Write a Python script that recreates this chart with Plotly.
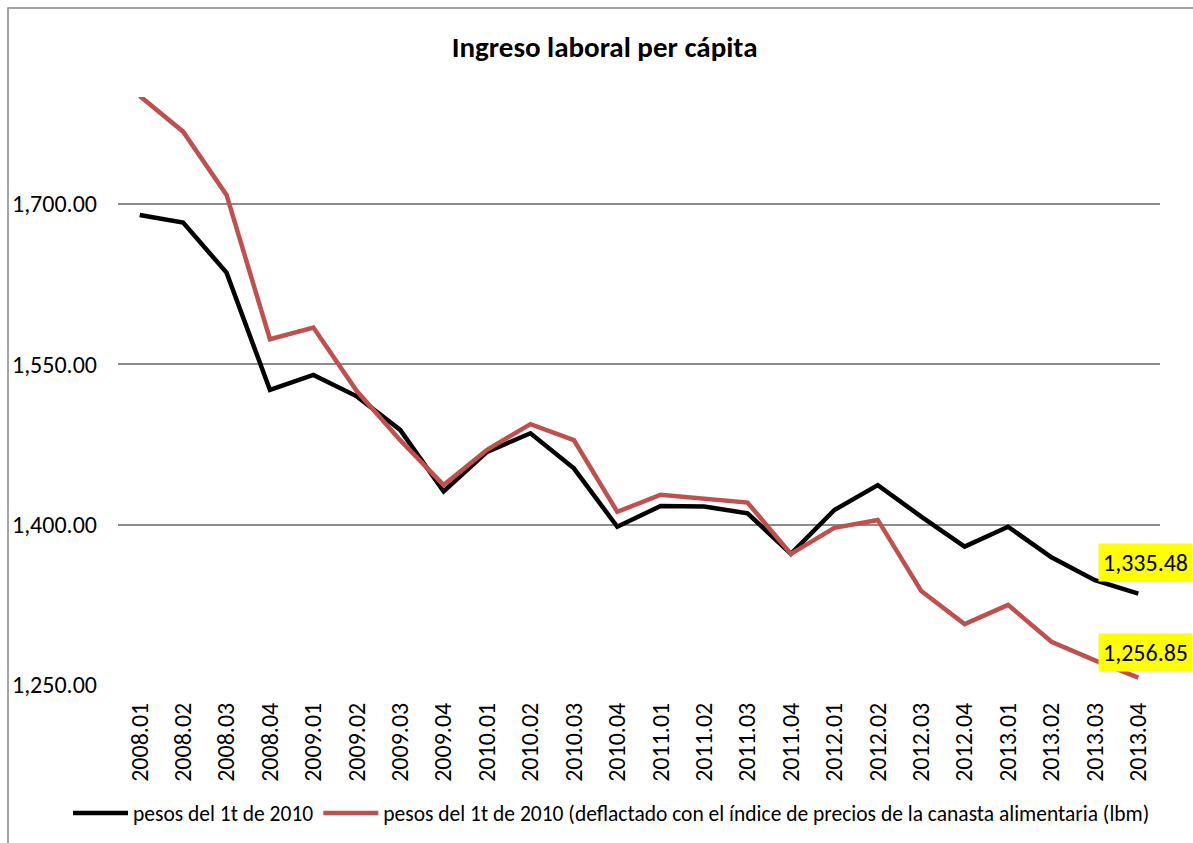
import plotly.graph_objects as go

categories = ["2008.01", "2008.02", "2008.03", "2008.04",
              "2009.01", "2009.02", "2009.03", "2009.04",
              "2010.01", "2010.02", "2010.03", "2010.04",
              "2011.01", "2011.02", "2011.03", "2011.04",
              "2012.01", "2012.02", "2012.03", "2012.04",
              "2013.01", "2013.02", "2013.03", "2013.04"]

pesos_2010 = [1689.7, 1682.5, 1635.7, 1526.0,
              1540.0, 1520.0, 1488.6, 1431.0,
              1468.0, 1485.5, 1452.7, 1398.0,
              1417.5, 1417.0, 1410.6, 1372.6,
              1413.7, 1437.0, 1407.5, 1379.4,
              1398.0, 1369.4, 1348.0, 1335.48]

pesos_2010_canasta = [1801.0, 1767.6, 1708.4, 1573.4,
                      1584.3, 1525.0, 1479.0, 1437.0,
                      1470.0, 1494.0, 1479.0, 1412.0,
                      1428.0, 1424.0, 1420.6, 1372.6,
                      1397.0, 1404.4, 1338.0, 1307.0,
                      1325.0, 1290.5, 1273.0, 1256.85]

y_ticks = [1250, 1400, 1550, 1700]
y_tick_text = ["1,250.00", "1,400.00", "1,550.00", "1,700.00"]

name_black = "pesos del 1t de 2010"
name_red = "pesos del 1t de 2010 (deflactado con el índice de precios de la canasta alimentaria (lbm)"

FONT = "Carlito, Calibri, Lato, sans-serif"

W, H = 1193, 843
PLOT_L, PLOT_R, PLOT_T, PLOT_B = 118, 1160, 97, 685
PW, PH = PLOT_R - PLOT_L, PLOT_B - PLOT_T

fig = go.Figure()
fig.add_trace(go.Scatter(x=categories, y=pesos_2010, mode="lines", name=name_black,
                         line=dict(color="#000000", width=4.5)))
fig.add_trace(go.Scatter(x=categories, y=pesos_2010_canasta, mode="lines", name=name_red,
                         line=dict(color="#C0504D", width=4.5)))

last = len(categories) - 1
fig.add_annotation(xref="x", yref="y", x=last, y=pesos_2010[-1], text=f"{pesos_2010[-1]:,.2f}",
                   showarrow=False, xshift=7, yshift=31, bgcolor="#FFFF00",
                   font=dict(family=FONT, size=24, color="#000000"), borderpad=4)
fig.add_annotation(xref="x", yref="y", x=last, y=pesos_2010_canasta[-1], text=f"{pesos_2010_canasta[-1]:,.2f}",
                   showarrow=False, xshift=7, yshift=25, bgcolor="#FFFF00",
                   font=dict(family=FONT, size=24, color="#000000"), borderpad=4)

# outer chart border (top and left visible in the window)
fig.add_shape(type="rect", xref="paper", yref="paper",
              x0=(8 - PLOT_L) / PW, x1=1.2, y0=-0.4, y1=(PLOT_B - 8) / PH,
              line=dict(color="#888888", width=1.5), fillcolor="rgba(0,0,0,0)", layer="below")

fig.update_layout(
    width=W, height=H,
    margin=dict(l=PLOT_L, r=W - PLOT_R, t=PLOT_T, b=H - PLOT_B, autoexpand=False),
    paper_bgcolor="white", plot_bgcolor="white",
    font=dict(family=FONT, color="#000000"),
    title=dict(text="<b>Ingreso laboral per cápita</b>", x=0.467, xref="paper", xanchor="center",
               y=1 - 47 / H, yanchor="middle", font=dict(family=FONT, size=29, color="#000000")),
    showlegend=True,
    legend=dict(orientation="h", xref="paper", yref="paper",
                x=(68 - PLOT_L) / PW, xanchor="left", y=(PLOT_B - 813) / PH, yanchor="middle",
                font=dict(family=FONT, size=21.5, color="#000000"), itemwidth=55,
                tracegroupgap=0, bgcolor="rgba(0,0,0,0)"),
    xaxis=dict(type="category", tickangle=-90, showgrid=False, showline=False, ticks="",
               tickfont=dict(family=FONT, size=24, color="#000000"),
               range=[-0.5, len(categories) - 0.5], ticklabelstandoff=12),
    yaxis=dict(range=[1250, 1800], tickvals=y_ticks, ticktext=y_tick_text, showgrid=True,
               gridcolor="#8C8C8C", gridwidth=1.5, zeroline=False, showline=False, ticks="",
               tickfont=dict(family=FONT, size=24, color="#000000"), ticklabelstandoff=20),
)

fig.write_html("out.html", config={"displayModeBar": False},
               post_script="document.body.style.margin='0';document.body.style.overflow='hidden';")
